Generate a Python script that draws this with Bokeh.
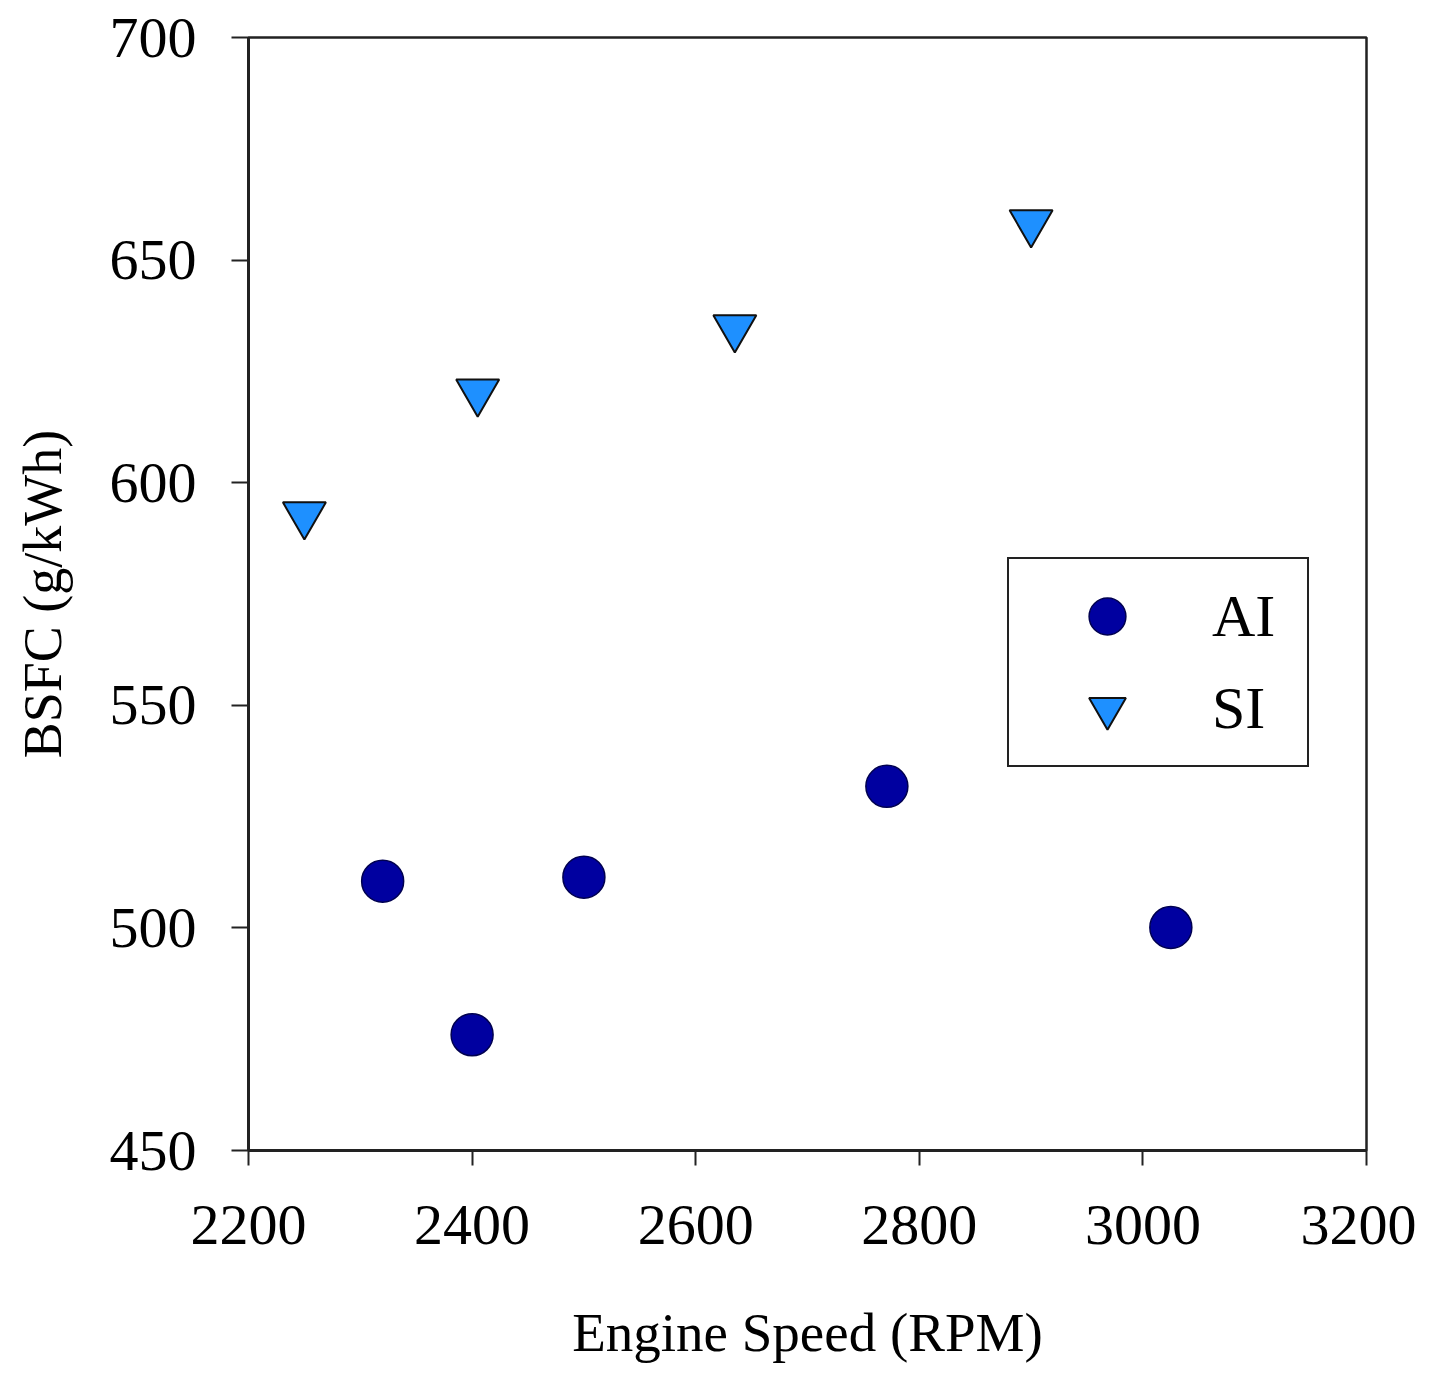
from bokeh.plotting import figure
from bokeh.models import Legend, LegendItem, FixedTicker, Range1d
from bokeh.embed import file_html
from bokeh.resources import INLINE

# Data
ai_speed = [2320, 2400, 2500, 2771, 3025]
ai_bsfc = [510.5, 476.0, 511.4, 531.8, 500.1]
si_speed = [2250, 2405, 2635, 2900]
si_bsfc = [592.8, 620.4, 634.8, 658.4]
x_ticks = [2200, 2400, 2600, 2800, 3000, 3200]
y_ticks = [450, 500, 550, 600, 650, 700]
series_names = ["AI", "SI"]

FONT = "Liberation Serif"

p = figure(frame_width=1118, frame_height=1113, output_backend="svg", toolbar_location=None,
           x_range=Range1d(2200, 3200), y_range=Range1d(450, 700),
           min_border_left=248, min_border_top=37, min_border_right=50, min_border_bottom=10)
p.background_fill_color = "white"
p.border_fill_color = "white"
p.grid.visible = False
p.outline_line_color = "#222222"
p.outline_line_width = 2.5
p.outline_line_alpha = 1

for ax in (p.xaxis[0], p.yaxis[0]):
    ax.axis_line_width = 3
    ax.axis_line_color = "#222222"
    ax.major_tick_line_width = 2
    ax.major_tick_line_color = "#222222"
    ax.major_tick_in = 0
    ax.minor_tick_line_color = None
    ax.major_label_text_font = FONT
    ax.major_label_text_color = "black"
    ax.axis_label_text_font = FONT
    ax.axis_label_text_font_style = "normal"
    ax.axis_label_text_color = "black"

p.xaxis.ticker = FixedTicker(ticks=x_ticks)
p.yaxis.ticker = FixedTicker(ticks=y_ticks)
p.xaxis.major_tick_out = 15
p.yaxis.major_tick_out = 17
p.xaxis.major_label_text_font_size = "58px"
p.yaxis.major_label_text_font_size = "58px"
p.xaxis.major_label_standoff = 40
p.yaxis.major_label_standoff = 35
p.xaxis.axis_label = "Engine Speed (RPM)"
p.yaxis.axis_label = "BSFC (g/kWh)"
p.xaxis.axis_label_text_font_size = "55px"
p.yaxis.axis_label_text_font_size = "54px"
p.xaxis.axis_label_standoff = 55
p.yaxis.axis_label_standoff = 34

r_ai = p.scatter(ai_speed, ai_bsfc, marker="circle", size=42,
                 fill_color="#0000A0", line_color="#000050", line_width=1.5)
r_si = p.scatter(si_speed, si_bsfc, marker="inverted_triangle", size=43,
                 fill_color="#1E90FF", line_color="#111111", line_width=2)

legend = Legend(items=[LegendItem(label=series_names[0], renderers=[r_ai]),
                       LegendItem(label=series_names[1], renderers=[r_si])],
                location=(759, 383))
legend.glyph_width = 174
legend.glyph_height = 92
legend.spacing = 0
legend.padding = 11
legend.label_standoff = 18
legend.label_width = 84
legend.label_text_font = FONT
legend.label_text_font_size = "60px"
legend.label_text_color = "black"
legend.border_line_color = "#222222"
legend.border_line_width = 2.5
legend.border_line_alpha = 1
legend.background_fill_color = "white"
legend.background_fill_alpha = 1
p.add_layout(legend, "center")

open("out.html", "w").write(file_html(p, INLINE))
